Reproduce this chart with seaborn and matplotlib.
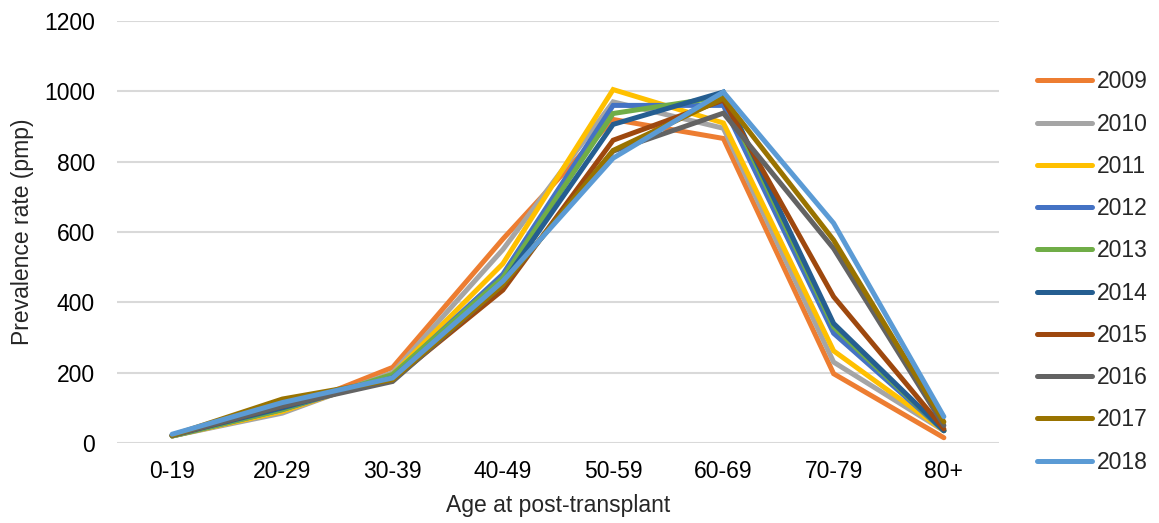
import matplotlib
matplotlib.use("Agg")
import matplotlib.pyplot as plt
import seaborn as sns
import pandas as pd

categories = ['0-19', '20-29', '30-39', '40-49', '50-59', '60-69', '70-79', '80+']
years = ['2009', '2010', '2011', '2012', '2013', '2014', '2015', '2016', '2017', '2018']
v2009 = [20, 90, 215, 580, 920, 866, 197, 15]
v2010 = [20, 85, 200, 550, 970, 895, 230, 35]
v2011 = [20, 90, 195, 510, 1005, 910, 262, 35]
v2012 = [20, 95, 190, 480, 960, 960, 312, 35]
v2013 = [20, 95, 195, 470, 937, 985, 330, 35]
v2014 = [22, 100, 185, 455, 906, 998, 340, 35]
v2015 = [22, 105, 180, 435, 861, 975, 416, 40]
v2016 = [22, 105, 175, 450, 830, 938, 553, 50]
v2017 = [22, 125, 180, 450, 832, 980, 577, 60]
v2018 = [25, 115, 185, 460, 810, 998, 625, 75]
series = [v2009, v2010, v2011, v2012, v2013, v2014, v2015, v2016, v2017, v2018]
colors = ['#ED7D31', '#A5A5A5', '#FFC000', '#4472C4', '#70AD47',
          '#255E91', '#9E480E', '#636363', '#997300', '#5B9BD5']

rows = []
for y, vals in zip(years, series):
    for c, v in zip(categories, vals):
        rows.append({'Age': c, 'Rate': v, 'Year': y})
df = pd.DataFrame(rows)

sns.set_theme(style="white")
plt.rcParams['font.family'] = ['Liberation Sans', 'DejaVu Sans']

fig = plt.figure(figsize=(11.59, 5.23), dpi=100)
ax = fig.add_axes([117/1159, 1 - 443/523, (999 - 117)/1159, (443 - 21)/523])

sns.lineplot(data=df, x='Age', y='Rate', hue='Year', hue_order=years,
             palette=dict(zip(years, colors)), sort=False, linewidth=3.6,
             ax=ax, legend=True)
for ln in ax.lines:
    ln.set_clip_on(False)
    ln.set_solid_capstyle('round')
    ln.set_solid_joinstyle('miter')

ax.set_xlim(-0.5, len(categories) - 0.5)
ax.set_ylim(0, 1200)
ax.set_yticks(range(0, 1201, 200))
ax.yaxis.grid(True, color='#D9D9D9', linewidth=1.5)
ax.xaxis.grid(False)
ax.set_axisbelow(True)
for s in ax.spines.values():
    s.set_visible(False)
ax.tick_params(axis='y', length=0, pad=16, labelsize=16.5, colors='#000000')
ax.tick_params(axis='x', length=0, pad=12, labelsize=16.5, colors='#000000')
ax.set_xlabel('Age at post-transplant', fontsize=16.5, labelpad=8)
ax.set_ylabel('Prevalence rate (pmp)', fontsize=16.5, labelpad=7)

handles, labels = ax.get_legend_handles_labels()
leg = ax.legend(handles, labels, loc='center left', bbox_to_anchor=(1.02, 0.405),
                frameon=False, fontsize=16.5, handlelength=2.4,
                handletextpad=0.18, labelspacing=0.84)
for h in leg.get_lines():
    h.set_linewidth(3.6)
    h.set_solid_capstyle('round')

fig.savefig('out.png', dpi=100)
